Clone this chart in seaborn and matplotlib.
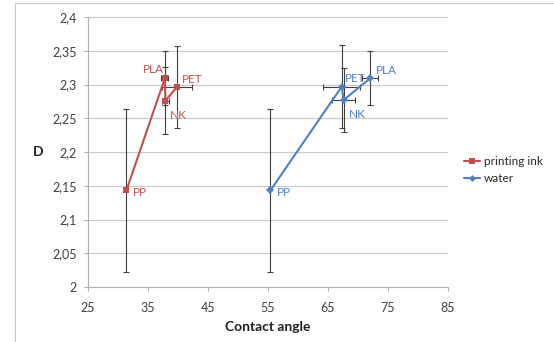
import matplotlib
matplotlib.use("Agg")
import matplotlib.pyplot as plt
from matplotlib.lines import Line2D
import seaborn as sns
import pandas as pd

# ---- data ----
materials = ["PP", "PLA", "NK", "PET"]
ink_angle = [31.4, 37.8, 37.9, 39.8]
ink_D = [2.143, 2.309, 2.276, 2.296]
ink_xerr = [0.0, 0.6, 0.6, 2.5]
ink_yerr = [0.121, 0.040, 0.050, 0.061]

water_materials = ["PP", "PET", "NK", "PLA"]
water_angle = [55.4, 67.3, 67.6, 72.0]
water_D = [2.143, 2.297, 2.277, 2.309]
water_xerr = [0.0, 3.1, 1.9, 1.35]
water_yerr = [0.121, 0.061, 0.047, 0.040]

series_names = ["printing ink", "water"]
x_ticks = [25, 35, 45, 55, 65, 75, 85]
y_ticks = [2.0, 2.05, 2.1, 2.15, 2.2, 2.25, 2.3, 2.35, 2.4]
y_tick_labels = ["2", "2,05", "2,1", "2,15", "2,2", "2,25", "2,3", "2,35", "2,4"]
x_label = "Contact angle"
y_label = "D"

colors = {"printing ink": "#C0504D", "water": "#4F81BD"}

df = pd.DataFrame({
    "angle": ink_angle + water_angle,
    "D": ink_D + water_D,
    "liquid": [series_names[0]] * 4 + [series_names[1]] * 4,
    "mat": materials + water_materials,
    "xerr": ink_xerr + water_xerr,
    "yerr": ink_yerr + water_yerr,
})

sns.set_theme(style="white")
plt.rcParams["font.family"] = ["Lato", "DejaVu Sans"]

fig = plt.figure(figsize=(5.54, 3.42), dpi=100)
ax = fig.add_axes([88 / 554, 1 - 287 / 342, 360 / 554, 270 / 342])

# error bars
for name in series_names:
    sub = df[df["liquid"] == name]
    ax.errorbar(sub["angle"], sub["D"], xerr=sub["xerr"], yerr=sub["yerr"],
                fmt="none", ecolor="#404040", elinewidth=0.8, capsize=2.5,
                capthick=0.8, zorder=2)

sns.lineplot(data=df, x="angle", y="D", hue="liquid", style="liquid",
             markers={"printing ink": "s", "water": "D"}, dashes=False,
             palette=colors, sort=False, estimator=None, ax=ax,
             linewidth=1.5, markersize=4, markeredgewidth=0, legend=False,
             zorder=3)

# point labels
ink_offsets = {"PP": (5, -4), "PLA": (-16, 4), "NK": (3, -13), "PET": (4, 3)}
water_offsets = {"PP": (5, -4), "PET": (2, 3), "NK": (4, -13), "PLA": (4, 3)}
for _, r in df.iterrows():
    offs = ink_offsets if r["liquid"] == "printing ink" else water_offsets
    ax.annotate(r["mat"], (r["angle"], r["D"]), xytext=offs[r["mat"]],
                textcoords="offset points", color=colors[r["liquid"]],
                fontsize=8.5, zorder=4)

ax.set_xlim(25, 85)
ax.set_ylim(2.0, 2.4)
ax.set_xticks(x_ticks)
ax.set_yticks(y_ticks)
ax.set_yticklabels(y_tick_labels)
ax.tick_params(axis="both", labelsize=9, length=3, width=0.8,
               direction="out", bottom=True, left=True)
ax.tick_params(axis="x", colors="#b0b0b0", labelcolor="#404040", pad=8)
ax.tick_params(axis="y", colors="#b0b0b0", labelcolor="#404040", pad=5)
ax.yaxis.grid(True, color="#c8c8c8", linewidth=0.8)
ax.xaxis.grid(False)
for s in ["top", "right"]:
    ax.spines[s].set_visible(False)
for s in ["left", "bottom"]:
    ax.spines[s].set_color("#b0b0b0")
    ax.spines[s].set_linewidth(0.8)

ax.set_xlabel(x_label, fontsize=10, fontweight="bold", color="#202020", labelpad=5)
ax.set_ylabel(y_label, fontsize=10, fontweight="bold", color="#202020",
              rotation=0, labelpad=10, va="center")

handles = [Line2D([0], [0], color=colors["printing ink"], marker="s", markersize=4,
                  linewidth=1.5, markeredgewidth=0),
           Line2D([0], [0], color=colors["water"], marker="D", markersize=3.5,
                  linewidth=1.5, markeredgewidth=0)]
fig.legend(handles, series_names, loc="center left",
           bbox_to_anchor=(453 / 554, 1 - 170 / 342), frameon=False,
           fontsize=8.5, handlelength=1.4, handletextpad=0.3, labelspacing=0.5)

# chart border (left and top)
fig.add_artist(Line2D([15 / 554, 15 / 554], [0, 1 - 3 / 342], color="#c8c8c8",
                      linewidth=0.8, transform=fig.transFigure))
fig.add_artist(Line2D([15 / 554, 1], [1 - 3 / 342, 1 - 3 / 342], color="#c8c8c8",
                      linewidth=0.8, transform=fig.transFigure))

fig.savefig("out.png", dpi=100, facecolor="white")
